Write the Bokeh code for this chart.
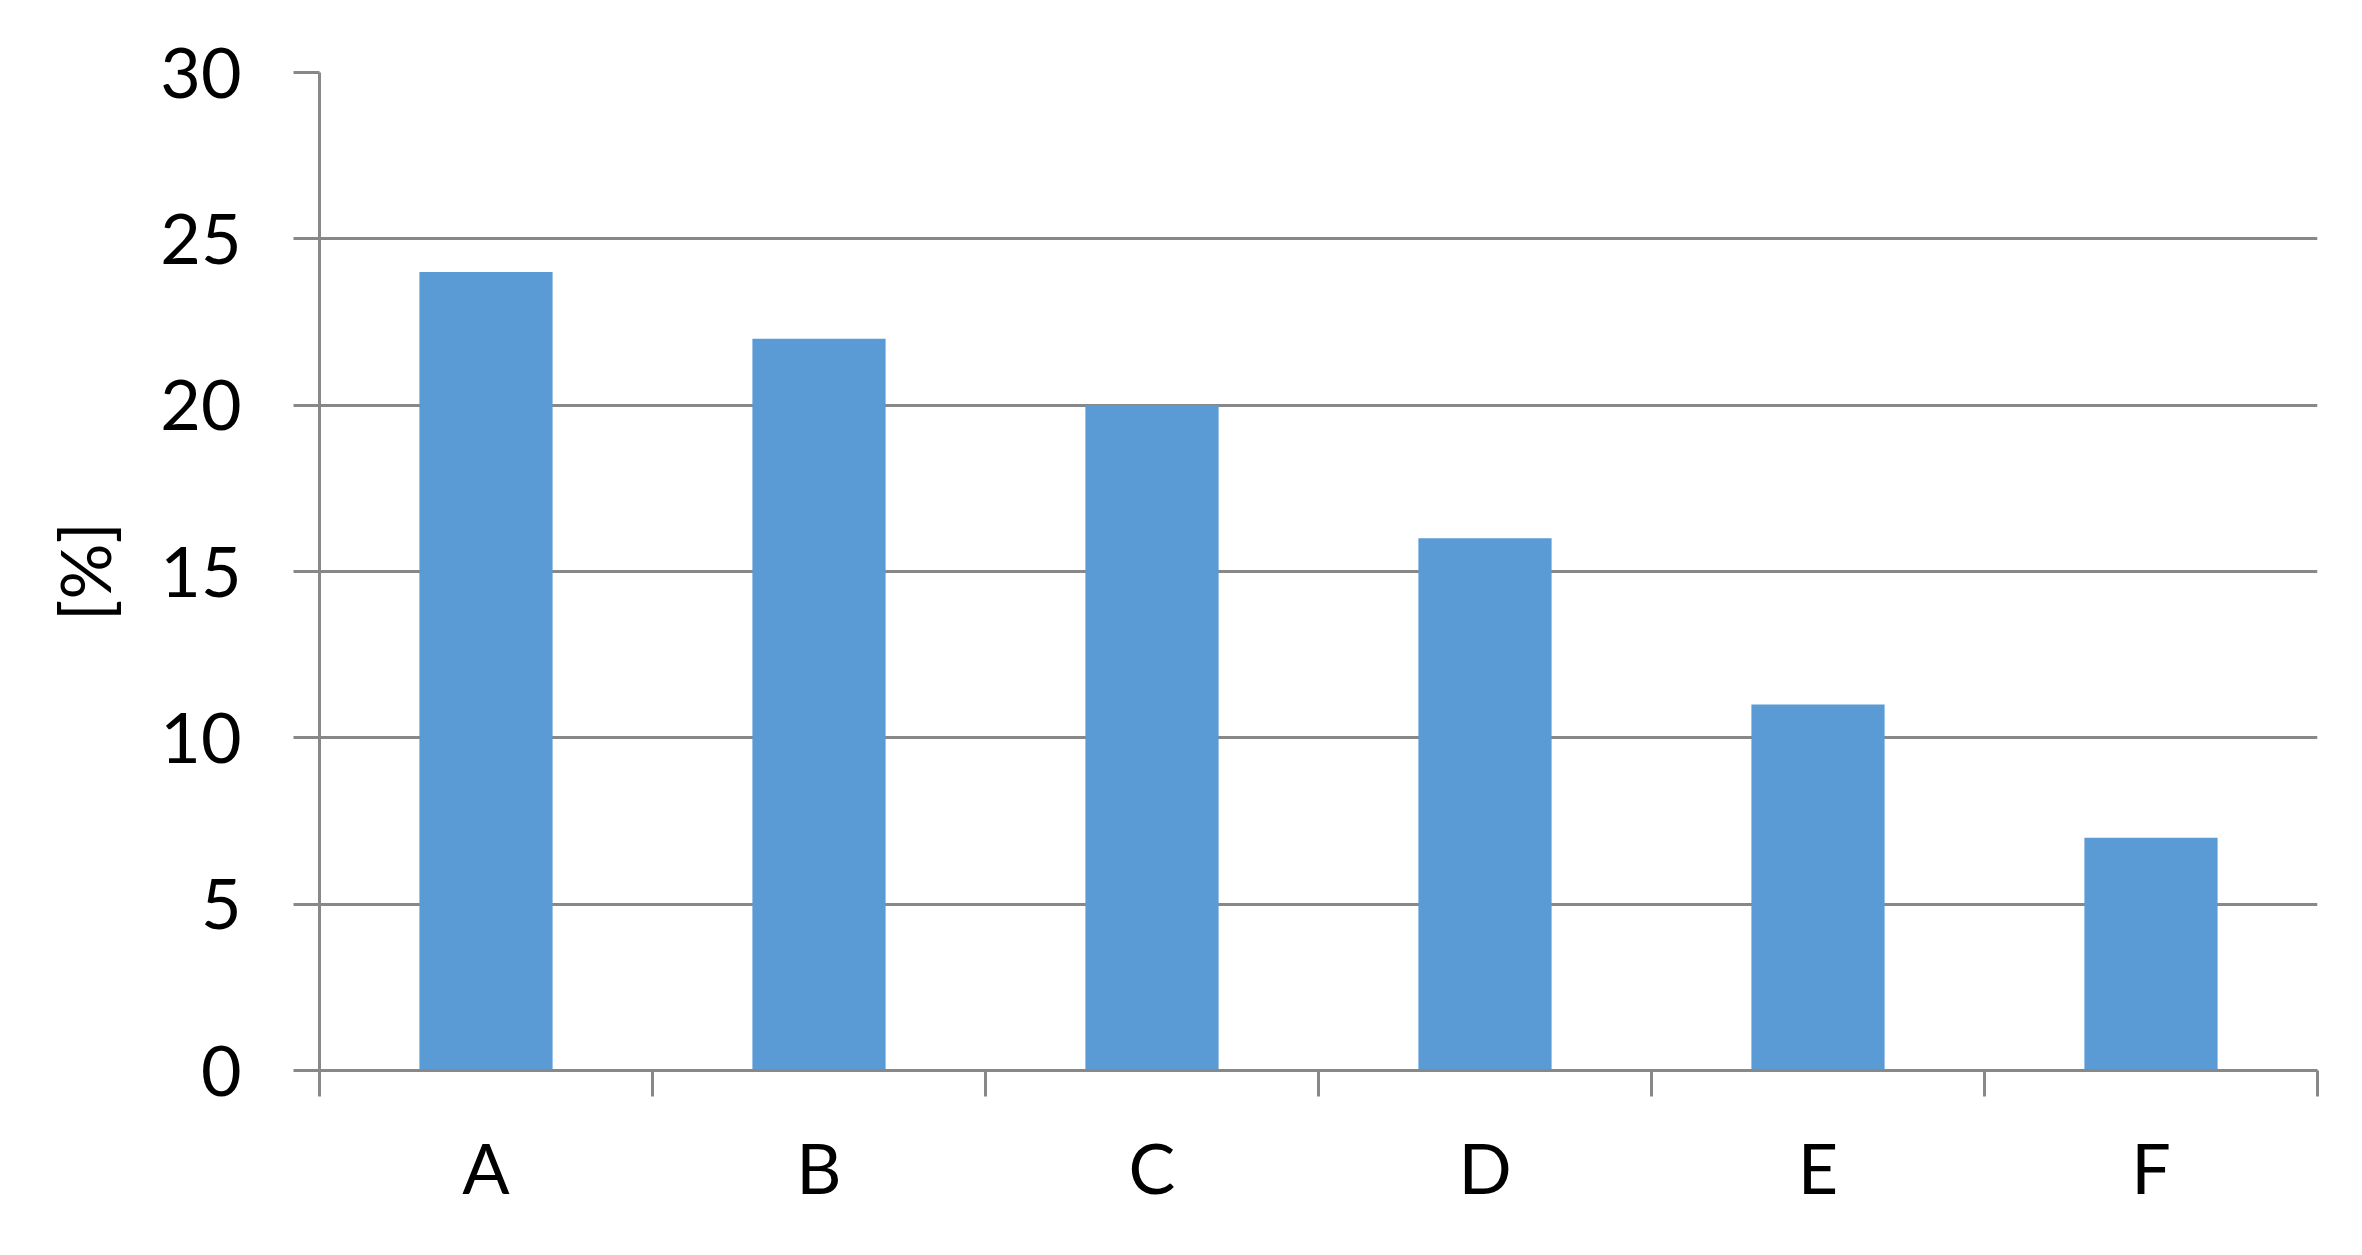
from bokeh.plotting import figure
from bokeh.models import FixedTicker, Range1d
from bokeh.embed import file_html
from bokeh.resources import INLINE
import numpy as np

categories = ["A", "B", "C", "D", "E", "F"]
values = [24, 22, 20, 16, 11, 7]
y_ticks = [0, 5, 10, 15, 20, 25, 30]
y_label = "[%]"

FONT = "Lato"
GRAY = "#888888"
BAR = "#5b9bd5"

x = np.arange(len(categories)) + 0.5

p = figure(width=2346, height=1239, output_backend="svg", toolbar_location=None,
           x_range=Range1d(0, len(categories)), y_range=Range1d(0, 30),
           min_border_left=319, min_border_right=29, min_border_top=72, min_border_bottom=169)
p.outline_line_color = None
p.background_fill_color = "white"

p.vbar(x=x, top=values, width=0.4, bottom=0, fill_color=BAR, line_color=None)

# y axis
p.yaxis.ticker = FixedTicker(ticks=y_ticks)
p.yaxis.axis_line_color = GRAY
p.yaxis.axis_line_width = 3
p.yaxis.major_tick_line_color = GRAY
p.yaxis.major_tick_line_width = 3
p.yaxis.major_tick_out = 26
p.yaxis.major_tick_in = 0
p.yaxis.minor_tick_line_color = None
p.yaxis.major_label_text_font = FONT
p.yaxis.major_label_text_font_size = "70px"
p.yaxis.major_label_text_color = "black"
p.yaxis.major_label_standoff = 52
p.yaxis.axis_label = y_label
p.yaxis.axis_label_text_font = FONT
p.yaxis.axis_label_text_font_size = "70px"
p.yaxis.axis_label_text_font_style = "normal"
p.yaxis.axis_label_text_color = "black"
p.yaxis.axis_label_standoff = 31

# x axis: labels at category centers, ticks at boundaries
p.xaxis.ticker = FixedTicker(ticks=list(x), minor_ticks=list(range(len(categories) + 1)))
p.xaxis.major_label_overrides = {float(v): c for v, c in zip(x, categories)}
p.xaxis.axis_line_color = GRAY
p.xaxis.axis_line_width = 3
p.xaxis.major_tick_line_color = None
p.xaxis.major_tick_out = 0
p.xaxis.major_tick_in = 0
p.xaxis.minor_tick_line_color = GRAY
p.xaxis.minor_tick_line_width = 3
p.xaxis.minor_tick_out = 26
p.xaxis.minor_tick_in = 0
p.xaxis.major_label_text_font = FONT
p.xaxis.major_label_text_font_size = "70px"
p.xaxis.major_label_text_color = "black"
p.xaxis.major_label_standoff = 28

p.xgrid.grid_line_color = None
p.ygrid.ticker = FixedTicker(ticks=y_ticks)
p.ygrid.grid_line_color = GRAY
p.ygrid.grid_line_width = 3

open("out.html", "w").write(file_html(p, INLINE))
